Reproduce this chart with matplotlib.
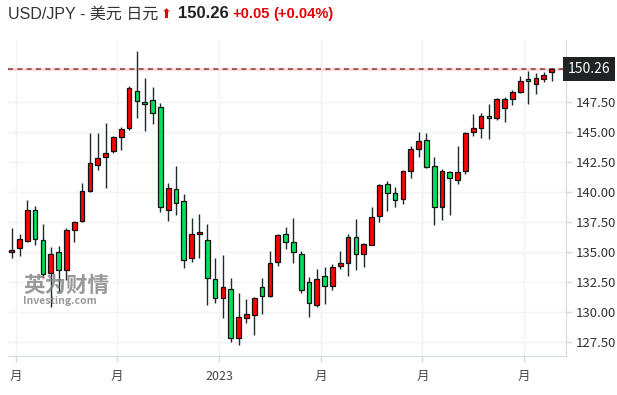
import numpy as np
import matplotlib
matplotlib.use("Agg")
import matplotlib.pyplot as plt

plt.rcParams['font.family'] = ['Noto Sans CJK SC', 'DejaVu Sans']

# weekly OHLC, USD/JPY
opens = [135.00, 135.33, 135.97, 138.50, 136.00, 133.25, 135.00, 133.50, 136.90, 137.64,
         140.14, 142.28, 142.92, 143.44, 144.58, 145.33, 148.41, 147.52, 147.66, 147.08,
         138.50, 140.25, 139.30, 134.55, 136.50, 136.00, 132.75, 131.16, 131.91, 127.83,
         129.50, 129.75, 132.08, 131.38, 134.16, 136.50, 135.83, 134.90, 132.50, 130.58,
         133.00, 132.16, 133.83, 134.08, 136.25, 134.83, 135.58, 138.00, 140.66, 139.91,
         139.41, 141.75, 143.58, 144.33, 142.16, 138.75, 141.66, 141.00, 141.75, 145.00,
         145.33, 146.33, 146.16, 147.00, 147.75, 148.33, 149.41, 149.00, 149.41, 150.00]
highs = [137.00, 136.50, 139.36, 138.86, 137.40, 135.47, 135.55, 137.00, 137.60, 140.75,
         144.90, 144.90, 145.80, 144.70, 145.47, 148.86, 151.80, 149.55, 148.75, 147.47,
         140.75, 142.22, 139.83, 137.83, 138.19, 137.40, 134.50, 134.75, 132.83, 131.58,
         131.08, 131.25, 132.90, 135.10, 136.50, 137.08, 137.90, 135.08, 132.97, 133.58,
         133.75, 134.00, 135.08, 136.50, 137.75, 135.75, 138.75, 140.66, 140.91, 140.41,
         141.83, 143.83, 145.00, 144.90, 142.90, 141.91, 141.75, 143.83, 145.00, 146.50,
         146.58, 147.33, 147.83, 147.91, 148.50, 149.66, 150.08, 149.91, 150.00, 150.33]
lows = [134.50, 134.72, 135.90, 135.60, 132.83, 130.41, 131.70, 132.70, 135.83, 137.55,
        140.05, 141.86, 140.33, 143.25, 143.50, 145.19, 146.17, 145.10, 145.66, 138.39,
        137.64, 138.10, 133.66, 134.16, 134.55, 130.58, 130.75, 129.50, 127.50, 127.27,
        129.08, 128.10, 129.83, 131.30, 133.90, 135.25, 134.08, 131.58, 129.64, 130.41,
        130.66, 131.83, 133.58, 133.00, 133.50, 133.75, 135.58, 137.50, 138.41, 138.75,
        139.00, 141.16, 142.90, 142.00, 137.25, 137.66, 138.08, 140.66, 141.50, 144.66,
        144.50, 144.41, 146.00, 145.83, 147.25, 148.25, 147.33, 148.16, 149.16, 149.25]
closes = [135.19, 136.08, 138.50, 136.08, 133.16, 134.90, 133.50, 136.90, 137.50, 140.14,
          142.47, 142.83, 143.25, 144.64, 145.25, 148.66, 147.60, 147.36, 146.58, 138.75,
          140.33, 139.08, 134.36, 136.50, 136.69, 132.83, 131.16, 132.08, 127.90, 129.58,
          129.83, 131.16, 131.38, 134.08, 136.41, 135.83, 135.00, 131.83, 130.75, 132.75,
          132.16, 133.75, 134.08, 136.25, 134.83, 135.66, 137.91, 140.58, 139.91, 139.33,
          141.75, 143.58, 144.25, 142.08, 138.75, 141.75, 141.16, 141.66, 144.90, 145.33,
          146.33, 146.16, 147.75, 147.75, 148.33, 149.25, 149.25, 149.50, 149.75, 150.26]

tick_pos = [0.5, 13.5, 26.5, 39.5, 52.5, 65.5]
tick_labels = ['月', '月', '2023', '月', '月', '月']
y_ticks = [127.5, 130.0, 132.5, 135.0, 137.5, 140.0, 142.5, 145.0, 147.5]
last_price = 150.26

UP = '#ff0000'
DOWN = '#00e05a'
W, H = 617, 395

fig = plt.figure(figsize=(W / 100, H / 100), dpi=100)
ax = fig.add_axes([8 / W, 1 - 356 / H, (566 - 8) / W, (356 - 40) / H])

o = np.array(opens)
c = np.array(closes)
x = np.arange(len(o))
cols = np.where(c >= o, UP, DOWN)
bottom = np.minimum(o, c)
height = np.maximum(np.abs(c - o), 0.12)

ax.vlines(x, lows, highs, color='#1e2b2b', linewidth=1.0, zorder=3)
ax.bar(x, height, bottom=bottom, width=0.6, color=cols, edgecolor='#111111',
       linewidth=0.9, zorder=4)

# current price line
ax.axhline(last_price, color='#ffd9d9', linewidth=2.2, zorder=1)
ax.axhline(last_price, color='#8a4747', linewidth=1.2, linestyle=(0, (3, 2.6)), zorder=2)

ax.set_xlim(-0.47, 70.85)
ax.set_ylim(126.36, 152.69)
ax.set_yticks(y_ticks)
ax.set_yticklabels(['%.2f' % v for v in y_ticks])
ax.yaxis.tick_right()
ax.set_xticks(tick_pos)
ax.set_xticklabels(tick_labels)
ax.tick_params(axis='y', colors='#d5dbe3', labelcolor='#333333', labelsize=9.5,
               length=4, width=1, pad=3)
ax.tick_params(axis='x', colors='#d5dbe3', labelcolor='#444444', labelsize=9,
               length=4, width=1, pad=6)
ax.grid(True, color='#f0f3f7', linewidth=1, zorder=0)
ax.set_axisbelow(True)
for s in ['top', 'left']:
    ax.spines[s].set_visible(False)
ax.spines['bottom'].set_color('#d5dbe3')
ax.spines['right'].set_color('#d5dbe3')

# price tag
ax.text(1.003, last_price, '150.26', transform=ax.get_yaxis_transform(),
        ha='left', va='center', color='white', fontsize=10,
        bbox=dict(boxstyle='square,pad=0.35', fc='#1f2326', ec='none'),
        zorder=6, clip_on=False)

# watermark
fig.text(23 / W, 1 - 292 / H, '英为财情', fontsize=15.5, fontweight='bold',
         color='#808080', alpha=0.8, va='baseline', ha='left')
fig.text(23 / W, 1 - 296.5 / H, 'Investing.com', fontsize=7.5, fontweight='bold',
         color='#808080', alpha=0.8, va='top', ha='left')

# header
hfam = ['Liberation Sans', 'Noto Sans CJK SC']
ty = 1 - 14 / H
fig.text(8 / W, ty, 'USD/JPY - 美元 日元', fontsize=11.5, color='#333333', va='center',
         family=hfam)
fig.text(161 / W, ty, '⬆', fontsize=9.5, color='#e00000', va='center',
         family='DejaVu Sans')
fig.text(178 / W, ty, '150.26', fontsize=12, fontweight='bold', color='#222222',
         va='center', family=hfam)
fig.text(232 / W, ty, '+0.05', fontsize=10.5, fontweight='bold', color='#e60000',
         va='center', family=hfam)
fig.text(273 / W, ty, '(+0.04%)', fontsize=10.5, fontweight='bold', color='#e60000',
         va='center', family=hfam)

fig.savefig('out.png', dpi=100)
